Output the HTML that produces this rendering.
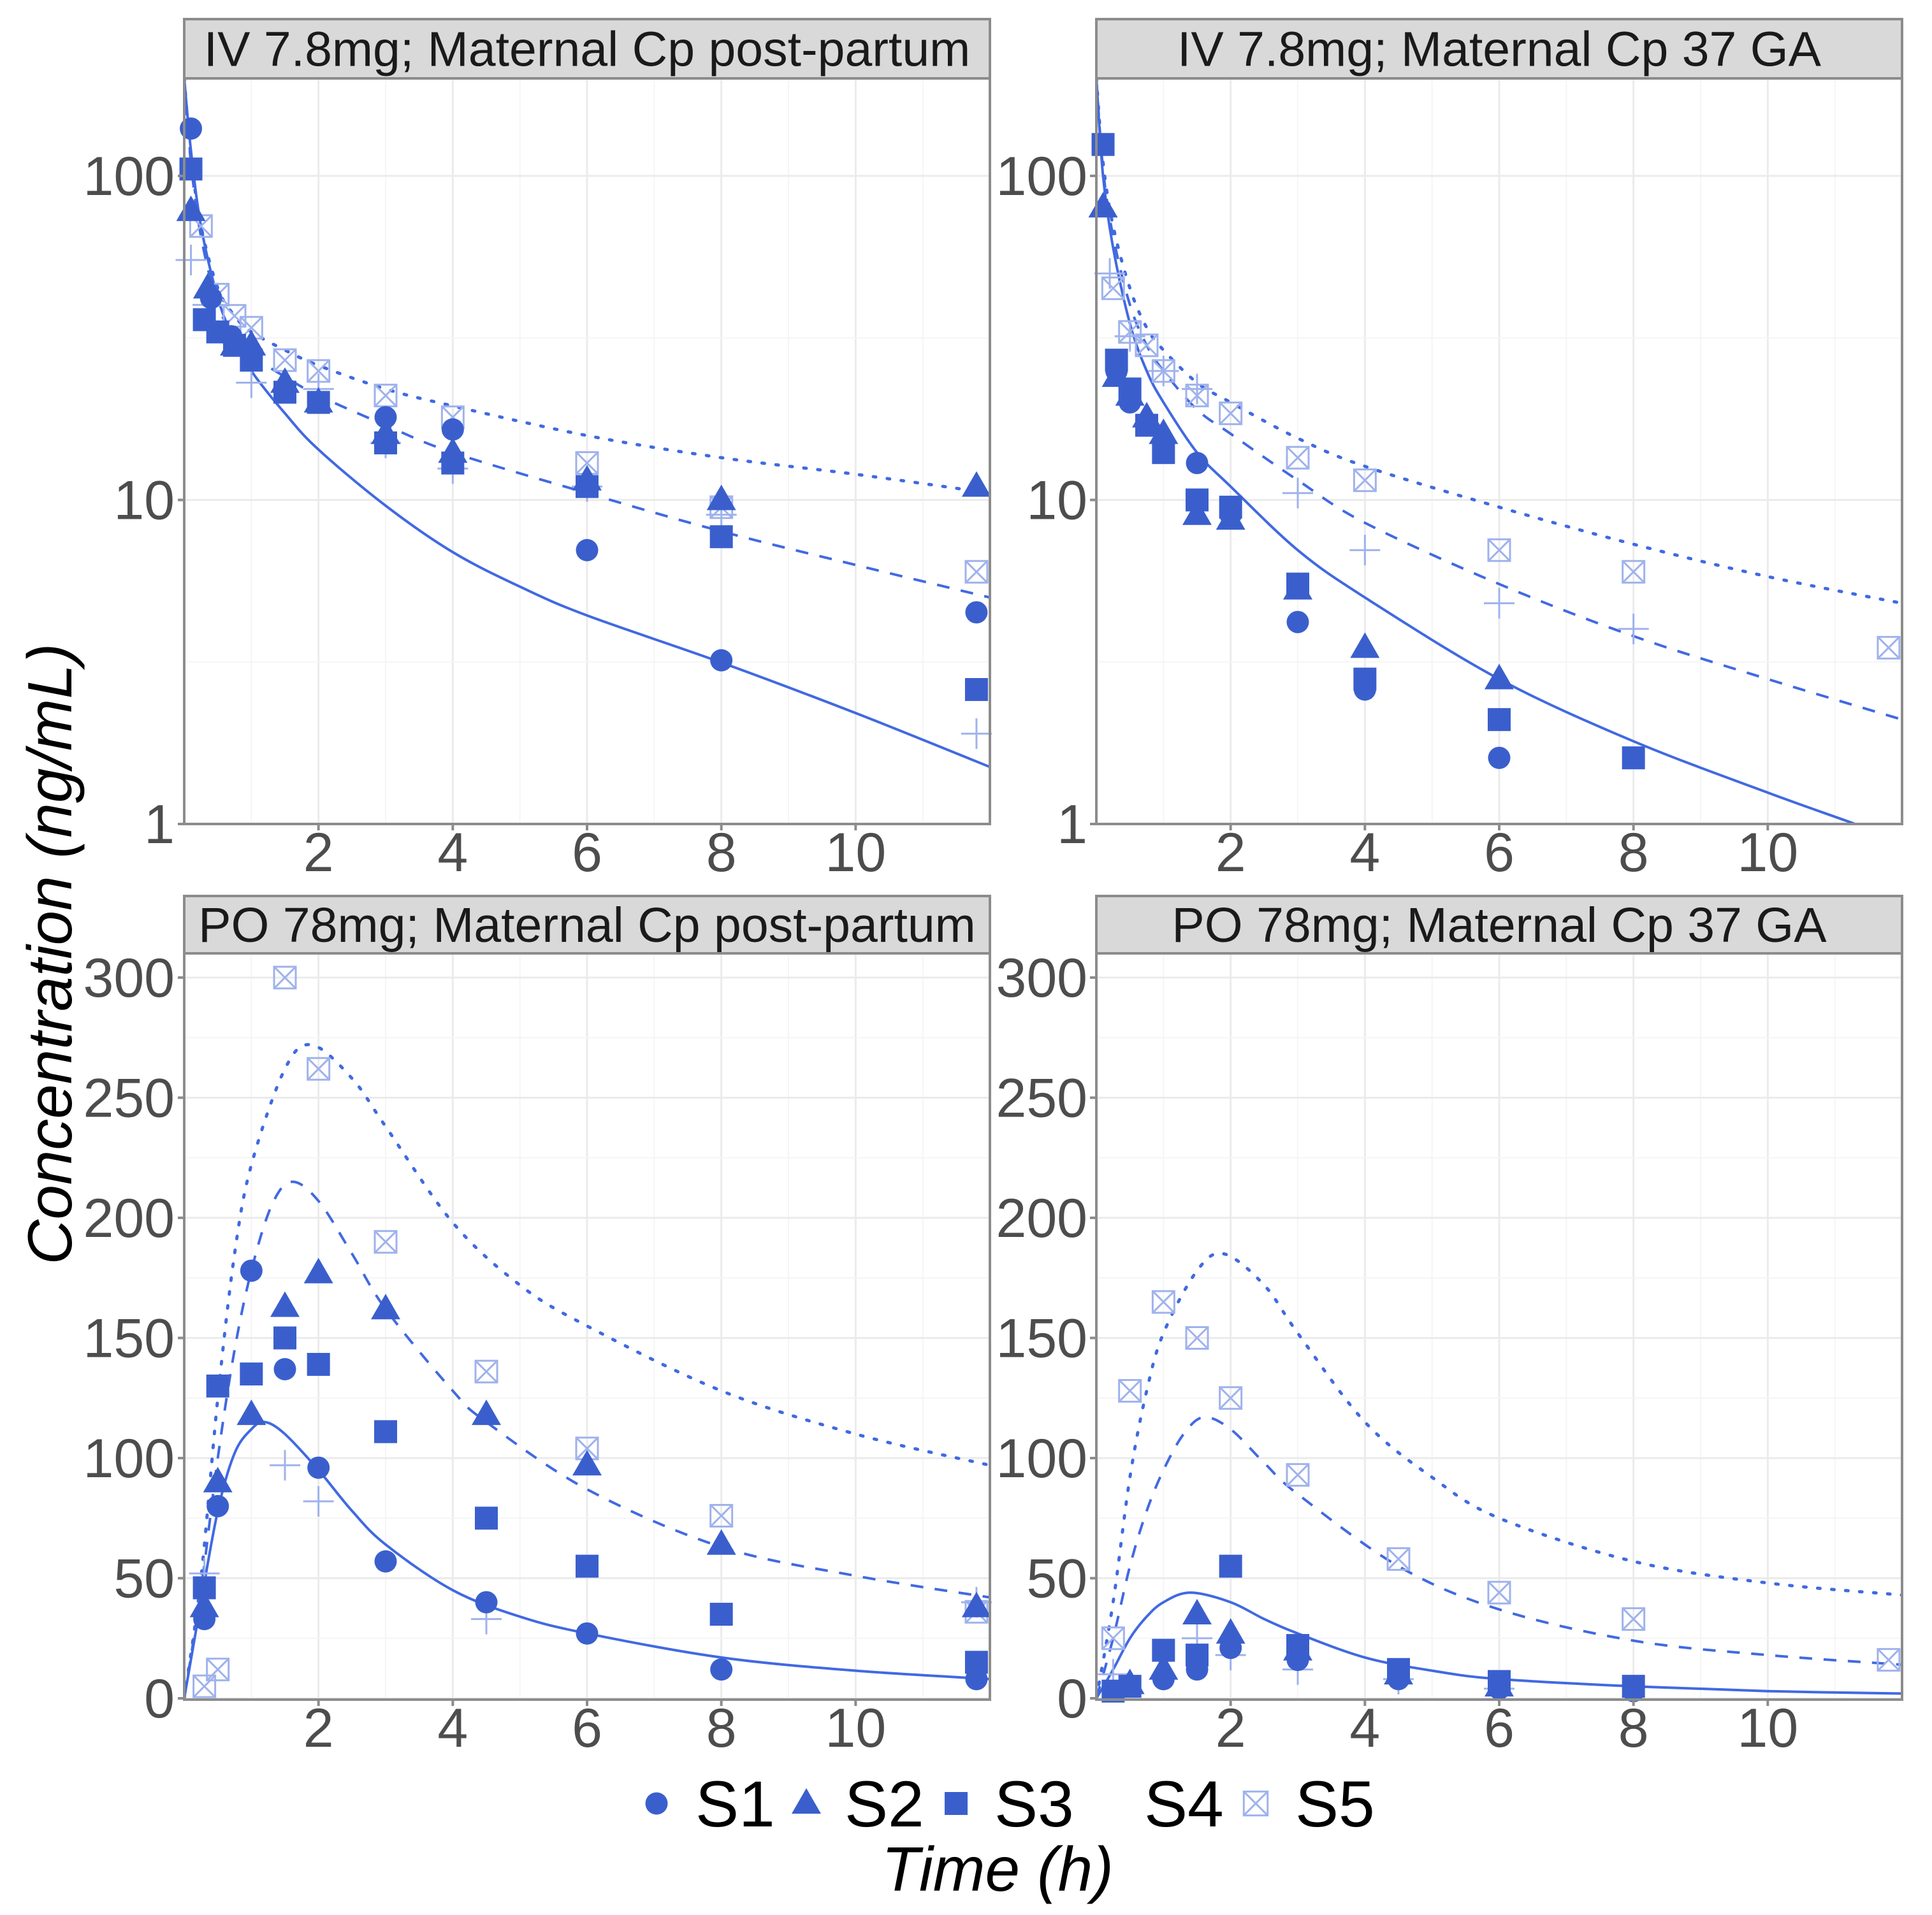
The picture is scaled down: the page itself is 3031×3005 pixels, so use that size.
<!DOCTYPE html>
<html><head><meta charset="utf-8"><style>
html,body{margin:0;padding:0;background:#fff;}
svg{display:block;}
text{font-family:"Liberation Sans",Arial,sans-serif;}
</style></head><body>
<svg id="chart" width="3031" height="3005" viewBox="0 0 3031 3005" xmlns="http://www.w3.org/2000/svg">
<rect x="0" y="0" width="3031" height="3005" fill="#fff"/>
<g id="panels"></g>
<text x="0" y="0" transform="translate(112,1497) rotate(-90)" text-anchor="middle" font-size="98" font-style="italic" fill="#000">Concentration (ng/mL)</text>
<text x="1565" y="2967" text-anchor="middle" font-size="98" font-style="italic" fill="#000">Time (h)</text>
<g id="legend"></g>
</svg>
<script>
// ---------- data ----------
const panelTitles = ["IV 7.8mg; Maternal Cp post-partum","IV 7.8mg; Maternal Cp 37 GA","PO 78mg; Maternal Cp post-partum","PO 78mg; Maternal Cp 37 GA"];
const xTicks = [2,4,6,8,10];
const logTicks = [1,10,100];
const logTickLabels = ["1","10","100"];
const linTicks = [0,50,100,150,200,250,300];
const linTickLabels = ["0","50","100","150","200","250","300"];
const seriesNames = ["S1","S2","S3","S4","S5"];

// model curves [t, conc]
const ivPP_solid = [[0,200],[0.1,120],[0.25,70],[0.5,42],[0.75,31],[1,25],[1.5,18.5],[2,14.3],[3,9.6],[4,6.9],[5,5.4],[6,4.4],[8,3.15],[10,2.2],[12,1.5]];
const ivPP_dash = [[0,200],[0.1,110],[0.25,65],[0.5,40],[0.75,32],[1,28],[1.5,24],[2,21],[3,17],[4,14],[6,10.5],[8,8],[10,6.3],[12,5]];
const ivPP_dot = [[0,200],[0.1,115],[0.25,70],[0.5,45],[0.75,37],[1,33],[1.5,29],[2,26],[3,22],[4,19.5],[6,15.8],[8,13.5],[10,12],[12,10.5]];
const ivGA_solid = [[0,200],[0.1,100],[0.25,60],[0.5,35],[0.75,25],[1,20],[1.5,14],[2,11],[3,7],[4,5],[6,2.8],[8,1.8],[10,1.25],[11.3,1],[12,0.88]];
const ivGA_dash = [[0,200],[0.1,105],[0.25,65],[0.5,40],[0.75,30],[1,25],[1.5,19],[2,16],[3,11.5],[4,8.5],[6,5.5],[8,3.8],[10,2.8],[12,2.1]];
const ivGA_dot = [[0,200],[0.1,110],[0.25,70],[0.5,45],[0.75,34],[1,29],[1.5,23],[2,20],[3,15.5],[4,12.7],[6,9.5],[8,7.3],[10,5.8],[12,4.8]];
const poPP_solid = [[0,0],[0.25,40],[0.5,78],[0.75,102],[1,112],[1.2,115],[1.5,110],[2,95],[2.5,78],[3,64],[4,45],[5,34],[6,27],[8,17],[10,11.5],[12,8]];
const poPP_dash = [[0,0],[0.25,45],[0.5,100],[0.75,145],[1,178],[1.3,205],[1.6,215],[2,207],[2.5,185],[3,162],[4,128],[4.5,115],[6,87],[8,63],[10,51],[12,42]];
const poPP_dot = [[0,0],[0.25,50],[0.5,125],[0.75,185],[1,222],[1.5,262],[1.9,272],[2.5,258],[3,238],[4,198],[5,172],[6,155],[8,128],[10,110],[12,97]];
const poGA_solid = [[0,0],[0.25,12],[0.5,25],[0.75,34],[1,40],[1.4,44],[2,40],[2.5,33],[3,27],[4,17],[5,11.5],[6,8],[8,5],[10,3],[12,2]];
const poGA_dash = [[0,0],[0.25,25],[0.5,55],[0.75,78],[1,95],[1.3,110],[1.6,117],[2,112],[2.5,98],[3,85],[4.5,55],[6,37],[8,24],[10,18],[12,14]];
const poGA_dot = [[0,0],[0.25,40],[0.5,92],[0.75,128],[1,152],[1.5,178],[1.9,185],[2.5,172],[3,152],[4,115],[5,92],[6,75],[8,57],[10,48],[12,43]];

// observations [t, conc]
const ivPP_S1 = [[0.1,140],[0.4,42],[0.7,32],[1.5,22],[2,20],[3,18],[4,16.5],[6,7],[8,3.2],[11.8,4.5]];
const ivPP_S2 = [[0.1,78],[0.35,45],[0.75,30],[1,30],[1.5,23],[2,20],[3,16],[4,14],[6,11.5],[8,10],[11.8,11]];
const ivPP_S3 = [[0.1,105],[0.3,36],[0.5,33],[0.75,30],[1,27],[1.5,21.5],[2,20],[3,15],[4,13],[6,11],[8,7.7],[11.8,2.6]];
const ivPP_S4 = [[0.1,55],[0.35,40],[1,23],[2,22],[3,15],[4,12.5],[6,11],[8,9],[11.8,1.9]];
const ivPP_S5 = [[0.25,70],[0.5,43],[0.75,37],[1,34],[1.5,27],[2,25],[3,21],[4,18],[6,13],[8,9.5],[11.8,6]];
const ivGA_S1 = [[0.3,25],[0.5,20],[0.75,17],[1,15],[1.5,13],[2,9],[3,4.2],[4,2.6],[6,1.6]];
const ivGA_S2 = [[0.1,80],[0.3,24],[0.5,21],[0.75,18],[1,16],[1.5,9],[2,8.7],[3,5.3],[4,3.5],[6,2.8]];
const ivGA_S3 = [[0.1,125],[0.3,27],[0.5,22],[0.75,17],[1,14],[1.5,10],[2,9.5],[3,5.5],[4,2.8],[6,2.1],[8,1.6]];
const ivGA_S4 = [[0.2,50],[0.5,32],[1,25],[1.5,22],[3,10.5],[4,7],[6,4.8],[8,4]];
const ivGA_S5 = [[0.25,45],[0.5,33],[0.75,30],[1,25],[1.5,21],[2,18.5],[3,13.5],[4,11.5],[6,7],[8,6],[11.8,3.5]];
const poPP_S1 = [[0.3,33],[0.5,80],[1,178],[1.5,137],[2,96],[3,57],[4.5,40],[6,27],[8,12],[11.8,8]];
const poPP_S2 = [[0.3,38],[0.5,90],[1,118],[1.5,163],[2,177],[3,162],[4.5,118],[6,97],[8,64],[11.8,38]];
const poPP_S3 = [[0.3,46],[0.5,130],[1,135],[1.5,150],[2,139],[3,111],[4.5,75],[6,55],[8,35],[11.8,15]];
const poPP_S4 = [[0.3,52],[1.5,97],[2,82],[4.5,33],[11.8,40]];
const poPP_S5 = [[0.3,5],[0.5,12],[1.5,300],[2,262],[3,190],[4.5,136],[6,104],[8,76],[11.8,36]];
const poGA_S1 = [[0.5,5],[1,8],[1.5,12],[2,21],[3,16],[4.5,8],[6,4],[8,3]];
const poGA_S2 = [[0.5,6],[1,12],[1.5,35],[2,27],[3,20],[4.5,10],[6,5]];
const poGA_S3 = [[0.25,3],[0.5,5],[1,20],[1.5,18],[2,55],[3,22],[4.5,12],[6,7],[8,5]];
const poGA_S4 = [[0.25,10],[1.5,25],[2,18],[3,12],[4.5,8],[6,4]];
const poGA_S5 = [[0.25,25],[0.5,128],[1,165],[1.5,150],[2,125],[3,93],[4.5,58],[6,44],[8,33],[11.8,16]];

// ---------- layout ----------
const NS = "http://www.w3.org/2000/svg";
const FILL = "#3a5fcd", LINE = "#4169e1", LIGHT = "#9fb2ec";
const panelDefs = [
  {x0:289,x1:1553,sy0:30,y0:123,y1:1293,log:true,curves:[ivPP_solid,ivPP_dash,ivPP_dot],obs:[ivPP_S1,ivPP_S2,ivPP_S3,ivPP_S4,ivPP_S5],labR:274},
  {x0:1720,x1:2984,sy0:30,y0:123,y1:1293,log:true,curves:[ivGA_solid,ivGA_dash,ivGA_dot],obs:[ivGA_S1,ivGA_S2,ivGA_S3,ivGA_S4,ivGA_S5],labR:1706},
  {x0:289,x1:1553,sy0:1406,y0:1496,y1:2667,log:false,curves:[poPP_solid,poPP_dash,poPP_dot],obs:[poPP_S1,poPP_S2,poPP_S3,poPP_S4,poPP_S5],labR:274},
  {x0:1720,x1:2984,sy0:1406,y0:1496,y1:2667,log:false,curves:[poGA_solid,poGA_dash,poGA_dot],obs:[poGA_S1,poGA_S2,poGA_S3,poGA_S4,poGA_S5],labR:1706}
];
function mk(tag, attrs, parent){const e=document.createElementNS(NS,tag);for(const k in attrs)e.setAttribute(k,attrs[k]);if(parent)parent.appendChild(e);return e;}

function smoothPath(pts){
  let d='M'+pts[0][0].toFixed(1)+','+pts[0][1].toFixed(1);
  for(let i=0;i<pts.length-1;i++){
    const p0=pts[Math.max(i-1,0)],p1=pts[i],p2=pts[i+1],p3=pts[Math.min(i+2,pts.length-1)];
    const c1x=p1[0]+(p2[0]-p0[0])/6, c1y=p1[1]+(p2[1]-p0[1])/6;
    const c2x=p2[0]-(p3[0]-p1[0])/6, c2y=p2[1]-(p3[1]-p1[1])/6;
    d+=`C${c1x.toFixed(1)},${c1y.toFixed(1)} ${c2x.toFixed(1)},${c2y.toFixed(1)} ${p2[0].toFixed(1)},${p2[1].toFixed(1)}`;
  }
  return d;
}

function drawMarker(g, type, cx, cy, s){
  let m;
  if(type===0){ m=mk('circle',{cx:cx,cy:cy,r:17.5*s,fill:FILL},g); }
  else if(type===1){ const h=40*s,w=46*s; m=mk('polygon',{points:`${cx},${cy-h*0.6} ${cx-w/2},${cy+h*0.4} ${cx+w/2},${cy+h*0.4}`,fill:FILL},g); }
  else if(type===2){ const a=18*s; m=mk('rect',{x:cx-a,y:cy-a,width:2*a,height:2*a,fill:FILL},g); }
  else if(type===3){ const a=24*s; m=mk('path',{d:`M${cx-a},${cy}H${cx+a}M${cx},${cy-a}V${cy+a}`,stroke:LIGHT,'stroke-width':3,fill:'none'},g); }
  else { const a=17*s; m=mk('path',{d:`M${cx-a},${cy-a}H${cx+a}V${cy+a}H${cx-a}ZM${cx-a},${cy-a}L${cx+a},${cy+a}M${cx+a},${cy-a}L${cx-a},${cy+a}`,stroke:LIGHT,'stroke-width':3,fill:'none'},g); }
  return m;
}

const root = document.getElementById('panels');
panelDefs.forEach((p,pi)=>{
  const g = mk('g',{},root);
  
  
  const xs = t => p.x0 + (t/12)*(p.x1-p.x0);
  const ys = p.log ? (v => 1293 - Math.log10(v)*508.5) : (v => 2665 - v*3.77);
  mk('rect',{x:p.x0,y:p.y0,width:p.x1-p.x0,height:p.y1-p.y0,fill:'#fff'},g);
  const clipId='clip'+pi;
  const cp=mk('clipPath',{id:clipId},g); mk('rect',{x:p.x0,y:p.y0,width:p.x1-p.x0,height:p.y1-p.y0},cp);
  const grid=mk('g',{'clip-path':`url(#${clipId})`},g);
  for(let t=1;t<=11;t++){ const maj=t%2===0; mk('line',{x1:xs(t),x2:xs(t),y1:p.y0,y2:p.y1,stroke:maj?'#ebebeb':'#f5f5f5','stroke-width':maj?3:2},grid); }
  if(p.log){
    [1,10,100].forEach(v=>mk('line',{x1:p.x0,x2:p.x1,y1:ys(v),y2:ys(v),stroke:'#ebebeb','stroke-width':3},grid));
    [3.162,31.62].forEach(v=>mk('line',{x1:p.x0,x2:p.x1,y1:ys(v),y2:ys(v),stroke:'#f5f5f5','stroke-width':2},grid));
  } else {
    for(let v=0;v<=300;v+=25){ const maj=v%50===0; mk('line',{x1:p.x0,x2:p.x1,y1:ys(v),y2:ys(v),stroke:maj?'#ebebeb':'#f5f5f5','stroke-width':maj?3:2},grid); }
  }
  const dashes=['none','20,18','4,18'];
  const cg=mk('g',{'clip-path':`url(#${clipId})`},g);
  p.curves.forEach((c,ci)=>{
    const pts=c.map(pt=>[xs(pt[0]),ys(Math.max(pt[1],0.01))]);
    const path=mk('path',{d:smoothPath(pts),fill:'none',stroke:LINE,'stroke-width':ci===2?5:4,'stroke-dasharray':dashes[ci],'stroke-linecap':ci===2?'round':'butt','stroke-linejoin':'round'},cg);
    
    
  });
  const og=mk('g',{},g);
  [4,3,0,1,2].forEach(si=>{
    p.obs[si].forEach(pt=>{
      const m=drawMarker(og,si,xs(pt[0]),ys(pt[1]),1);
      
      
    });
  });
  mk('rect',{x:p.x0,y:p.y0,width:p.x1-p.x0,height:p.y1-p.y0,fill:'none',stroke:'#8c8c8c','stroke-width':4},g);
  const st=mk('rect',{x:p.x0,y:p.sy0,width:p.x1-p.x0,height:p.y0-p.sy0,fill:'#d9d9d9',stroke:'#8c8c8c','stroke-width':4},g);
  
  
  const tt=mk('text',{x:(p.x0+p.x1)/2,y:p.sy0+(p.y0-p.sy0)/2+27,'text-anchor':'middle','font-size':77,fill:'#1a1a1a'},g);
  tt.textContent=panelTitles[pi];
  
  
  xTicks.forEach(t=>{
    mk('line',{x1:xs(t),x2:xs(t),y1:p.y1,y2:p.y1+10,stroke:'#8c8c8c','stroke-width':4},g);
    const lb=mk('text',{x:xs(t),y:p.y1+74,'text-anchor':'middle','font-size':86,fill:'#4d4d4d'},g);
    lb.textContent=String(t);
    
    
  });
  const yt=p.log?logTicks:linTicks, yl=p.log?logTickLabels:linTickLabels;
  yt.forEach((v,i)=>{
    mk('line',{x1:p.x0-10,x2:p.x0,y1:ys(v),y2:ys(v),stroke:'#8c8c8c','stroke-width':4},g);
    const lb=mk('text',{x:p.labR,y:ys(v)+30,'text-anchor':'end','font-size':86,fill:'#4d4d4d'},g);
    lb.textContent=yl[i];
    
    
  });
});

const leg=document.getElementById('legend');
const legendIconX=[1030,1265,1500,null,1970];
const legendTextX=[1091,1325,1560,1795,2032];
seriesNames.forEach((n,i)=>{
  const eg=mk('g',{},leg);
  
  
  if(legendIconX[i]!==null) drawMarker(eg,i,legendIconX[i],2830,i===4?1.1:1);
  const t=mk('text',{x:legendTextX[i],y:2866,'font-size':102,fill:'#000'},eg);
  t.textContent=n;
});
</script>
</body></html>
